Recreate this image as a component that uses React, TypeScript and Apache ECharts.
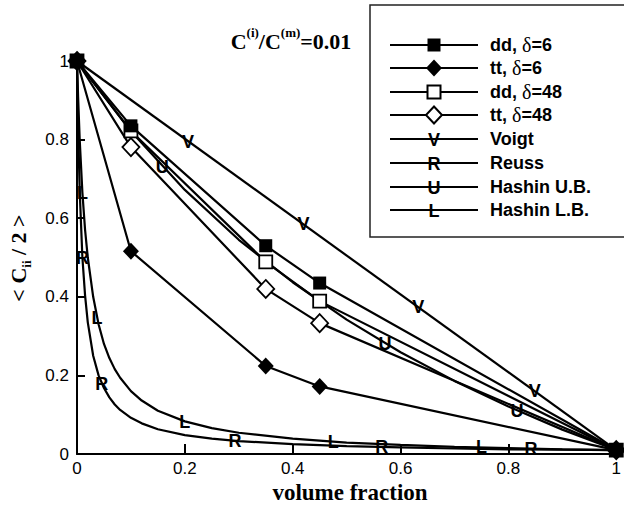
import React, { useEffect, useRef } from 'react';
import * as echarts from 'echarts';

// measured composites (x = volume fraction)
const measX = [0, 0.1, 0.35, 0.45, 1];
const ddDelta6 = [1, 0.835, 0.53, 0.435, 0.01];
const ttDelta6 = [1, 0.516, 0.224, 0.172, 0.01];
const ddDelta48 = [1, 0.822, 0.489, 0.389, 0.01];
const ttDelta48 = [1, 0.781, 0.42, 0.333, 0.01];

// Voigt bound
const voigtX = [0, 1];
const voigtY = [1, 0.01];

// Reuss and Hashin lower bound curves
const boundX = [0, 0.002, 0.005, 0.01, 0.015, 0.02, 0.03, 0.04, 0.05, 0.06, 0.07, 0.08, 0.1, 0.12, 0.15, 0.2, 0.25, 0.3, 0.4, 0.5, 0.6, 0.7, 0.8, 0.9, 1];
const reussY = [1, 0.835, 0.67, 0.5, 0.403, 0.335, 0.25, 0.2, 0.168, 0.144, 0.126, 0.112, 0.092, 0.078, 0.063, 0.048, 0.039, 0.033, 0.025, 0.02, 0.017, 0.014, 0.012, 0.011, 0.01];
const hashinLY = [1, 0.91, 0.8, 0.665, 0.57, 0.5, 0.4, 0.33, 0.28, 0.244, 0.216, 0.194, 0.16, 0.136, 0.11, 0.083, 0.066, 0.054, 0.039, 0.029, 0.023, 0.018, 0.015, 0.012, 0.01];

// Hashin upper bound curve
const hashinUX = [0, 0.1, 0.2, 0.3, 0.4, 0.5, 0.6, 0.7, 0.8, 0.9, 1];
const hashinUY = [1, 0.821, 0.672, 0.545, 0.437, 0.342, 0.259, 0.186, 0.121, 0.062, 0.01];

// letter marker positions
const vMarkX = [0.206, 0.42, 0.633, 0.849];
const vMarkY = [0.795, 0.584, 0.373, 0.16];
const rMarkX = [0.01, 0.046, 0.293, 0.565, 0.842];
const rMarkY = [0.5, 0.178, 0.033, 0.017, 0.012];
const uMarkX = [0.158, 0.571, 0.816];
const uMarkY = [0.73, 0.28, 0.11];
const lMarkX = [0.01, 0.037, 0.2, 0.475, 0.75];
const lMarkY = [0.665, 0.345, 0.082, 0.03, 0.018];

const legendNames = ['dd, δ=6', 'tt, δ=6', 'dd, δ=48', 'tt, δ=48', 'Voigt', 'Reuss', 'Hashin U.B.', 'Hashin L.B.'];
const legendMarks = ['fsquare', 'fdiamond', 'osquare', 'odiamond', 'V', 'R', 'U', 'L'];

const zip = (xs: number[], ys: number[]) => xs.map((x, i) => [x, ys[i]]);

const SANS = 'Liberation Sans';
const SERIF = 'Liberation Serif';
const LW = 2.2;

export default function App() {
  const ref = useRef<HTMLDivElement>(null);
  useEffect(() => {
    const chart = echarts.init(ref.current!, null, { renderer: 'svg' });

    const lineBase = {
      type: 'line',
      lineStyle: { color: '#000', width: LW },
      emphasis: { disabled: true },
      silent: true,
    };
    const letterSeries = (xs: number[], ys: number[], letter: string) => ({
      type: 'scatter',
      data: zip(xs, ys),
      symbol: 'circle',
      symbolSize: 2,
      itemStyle: { color: 'rgba(255,255,255,0)', opacity: 1 },
      label: {
        show: true,
        position: 'inside',
        formatter: letter,
        color: '#000',
        opacity: 1,
        textBorderWidth: 0,
        textBorderColor: 'transparent',
        fontFamily: SANS,
        fontWeight: 'bold',
        fontSize: 18,
      },
      emphasis: { disabled: true },
      silent: true,
      z: 6,
    });

    const tickFmt = (v: number) => (v === 0 ? '0' : v === 1 ? '1' : v.toFixed(1));

    const graphic: any[] = [];
    // legend box
    graphic.push({
      type: 'rect',
      shape: { x: 370, y: 5, width: 262, height: 232 },
      style: { fill: '#fff', stroke: '#222', lineWidth: 1.5 },
      z: 50,
    });
    const rowY = [45, 68, 92, 115, 139, 163, 187, 210];
    legendNames.forEach((name, i) => {
      const y = rowY[i];
      graphic.push({
        type: 'line',
        shape: { x1: 390, y1: y, x2: 478, y2: y },
        style: { stroke: '#000', lineWidth: LW },
        z: 51,
      });
      const m = legendMarks[i];
      const cx = 434;
      if (m === 'fsquare' || m === 'osquare') {
        graphic.push({
          type: 'rect',
          shape: { x: cx - 6.5, y: y - 6.5, width: 13, height: 13 },
          style: m === 'fsquare' ? { fill: '#000' } : { fill: '#fff', stroke: '#000', lineWidth: 2 },
          z: 52,
        });
      } else if (m === 'fdiamond' || m === 'odiamond') {
        graphic.push({
          type: 'polygon',
          shape: { points: [[cx, y - 8.5], [cx + 8, y], [cx, y + 8.5], [cx - 8, y]] },
          style: m === 'fdiamond' ? { fill: '#000' } : { fill: '#fff', stroke: '#000', lineWidth: 2 },
          z: 52,
        });
      } else {
        graphic.push({
          type: 'text',
          x: cx,
          y: y + 1,
          style: {
            text: m,
            fill: '#000',
            font: `bold 18px "${SANS}"`,
            align: 'center',
            verticalAlign: 'middle',
          },
          z: 52,
        });
      }
      let txt;
      if (name.indexOf('δ') >= 0) {
        const parts = name.split('δ');
        txt = `{a|${parts[0]}}{d|δ}{a|${parts[1]}}`;
      } else {
        txt = `{a|${name}}`;
      }
      graphic.push({
        type: 'text',
        x: 490,
        y: y,
        style: {
          text: txt,
          align: 'left',
          verticalAlign: 'middle',
          rich: {
            a: { fontFamily: SANS, fontWeight: 'bold', fontSize: 18, fill: '#000', lineHeight: 22 },
            d: { fontFamily: SERIF, fontWeight: 'normal', fontSize: 20, fill: '#000', lineHeight: 22 },
          },
        },
        z: 52,
      });
    });

    // title
    graphic.push({
      type: 'text',
      x: 291,
      y: 41,
      style: {
        text: '{b|C}{s|(i)}{b|/C}{s|(m)}{b|=0.01}',
        align: 'center',
        verticalAlign: 'middle',
        rich: {
          b: { fontFamily: SERIF, fontWeight: 'bold', fontSize: 22, lineHeight: 30, fill: '#000' },
          s: { fontFamily: SERIF, fontWeight: 'bold', fontSize: 13, lineHeight: 14, verticalAlign: 'top', fill: '#000' },
        },
      },
      z: 40,
    });
    // y axis name
    graphic.push({
      type: 'text',
      x: 18,
      y: 258,
      rotation: Math.PI / 2,
      style: {
        text: '{m|< C}{s|ii}{m| / 2 >}',
        align: 'center',
        verticalAlign: 'middle',
        rich: {
          m: { fontFamily: SERIF, fontWeight: 'bold', fontSize: 22, lineHeight: 30, fill: '#000' },
          s: { fontFamily: SERIF, fontWeight: 'bold', fontSize: 13, lineHeight: 14, verticalAlign: 'bottom', fill: '#000' },
        },
      },
      z: 40,
    });
    // x axis name
    graphic.push({
      type: 'text',
      x: 350,
      y: 492,
      style: {
        text: 'volume fraction',
        align: 'center',
        verticalAlign: 'middle',
        font: `bold 23px "${SERIF}"`,
        fill: '#000',
      },
      z: 40,
    });

    const option: any = {
      animation: false,
      backgroundColor: '#fff',
      grid: { left: 77, right: 4, top: 61, bottom: 57, containLabel: false },
      xAxis: {
        type: 'value',
        min: 0,
        max: 1,
        interval: 0.2,
        axisLine: { onZero: false, lineStyle: { color: '#000', width: 2 } },
        axisTick: { inside: true, length: 10, lineStyle: { color: '#000', width: 2 } },
        axisLabel: { formatter: tickFmt, color: '#000', fontSize: 17, fontFamily: SANS, margin: 6, showMinLabel: true, showMaxLabel: true },
        splitLine: { show: false },
      },
      yAxis: {
        type: 'value',
        min: 0,
        max: 1,
        interval: 0.2,
        axisLine: { show: true, onZero: false, lineStyle: { color: '#000', width: 2 } },
        axisTick: { show: true, inside: true, length: 8, lineStyle: { color: '#000', width: 2 } },
        axisLabel: { formatter: tickFmt, color: '#000', fontSize: 17, fontFamily: SANS, margin: 8, showMinLabel: true, showMaxLabel: true },
        splitLine: { show: false },
      },
      series: [
        { ...lineBase, name: 'Voigt', data: zip(voigtX, voigtY), showSymbol: false, symbol: 'none', z: 2 },
        { ...lineBase, name: 'Reuss', data: zip(boundX, reussY), showSymbol: false, symbol: 'none', z: 2 },
        { ...lineBase, name: 'Hashin U.B.', data: zip(hashinUX, hashinUY), showSymbol: false, symbol: 'none', z: 2 },
        { ...lineBase, name: 'Hashin L.B.', data: zip(boundX, hashinLY), showSymbol: false, symbol: 'none', z: 2 },
        letterSeries(vMarkX, vMarkY, 'V'),
        letterSeries(rMarkX, rMarkY, 'R'),
        letterSeries(uMarkX, uMarkY, 'U'),
        letterSeries(lMarkX, lMarkY, 'L'),
        {
          ...lineBase, name: 'tt, δ=48', data: zip(measX, ttDelta48), symbol: 'diamond', symbolSize: [17, 18],
          itemStyle: { color: '#fff', borderColor: '#000', borderWidth: 1.8 }, z: 3,
        },
        {
          ...lineBase, name: 'dd, δ=48', data: zip(measX, ddDelta48), symbol: 'rect', symbolSize: 13,
          itemStyle: { color: '#fff', borderColor: '#000', borderWidth: 1.8 }, z: 3,
        },
        {
          ...lineBase, name: 'tt, δ=6', data: zip(measX, ttDelta6), symbol: 'diamond', symbolSize: [16, 17],
          itemStyle: { color: '#000' }, z: 4,
        },
        {
          ...lineBase, name: 'dd, δ=6', data: zip(measX, ddDelta6), symbol: 'rect', symbolSize: 13,
          itemStyle: { color: '#000' }, z: 4,
        },
      ],
      graphic,
    };
    chart.setOption(option);
    return () => chart.dispose();
  }, []);
  return <div ref={ref} style={{ position: 'absolute', left: 0, top: 0, width: 624, height: 511 }} />;
}
